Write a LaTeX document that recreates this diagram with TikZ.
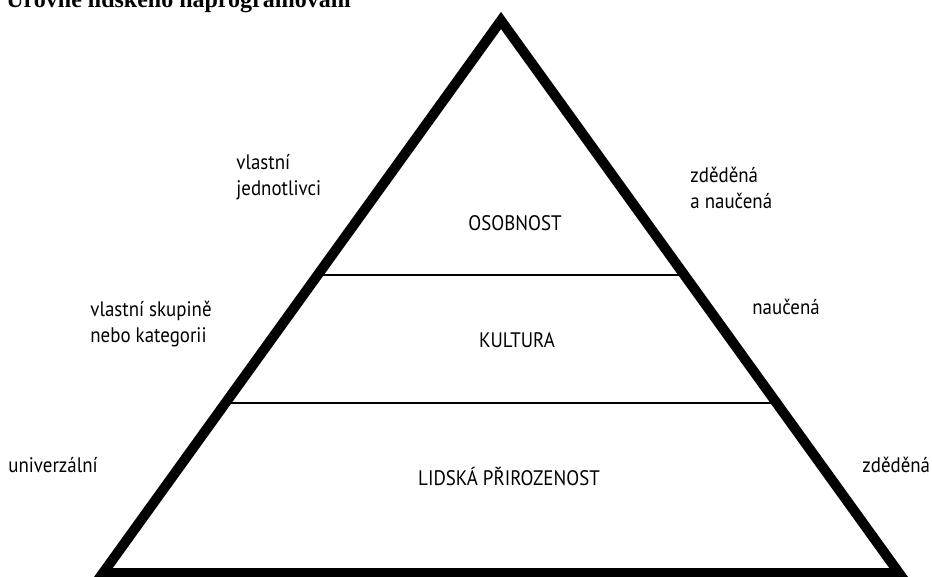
\documentclass[tikz,border=0pt]{standalone}
\usepackage{fontspec}
\setmainfont[FakeStretch=0.9]{PT Sans}
\newfontfamily\titlefont{Liberation Serif}
\usetikzlibrary{calc}

\begin{document}
\begin{tikzpicture}[x=1pt, y=-1pt, thick,
    level node/.style={font=\fontsize{21}{26}\selectfont, inner sep=0pt},
    side node/.style={font=\fontsize{21}{26}\selectfont, align=left, anchor=west, inner sep=0pt},
    title node/.style={font=\titlefont\bfseries\fontsize{24}{28}\selectfont, anchor=base west, inner sep=0pt},
    divider/.style={line width=1.3pt},
    outline/.style={line width=10pt, line join=miter}]
\useasboundingbox (0,0) rectangle (932,576);

% corners of the pyramid
\coordinate (top) at (501,20.5);
\coordinate (left) at (103,573);
\coordinate (right) at (899,573);

% dividers between the levels
\coordinate (d1l) at ($(top)!0.4606!(left)$);
\coordinate (d1r) at ($(top)!0.4606!(right)$);
\coordinate (d2l) at ($(top)!0.6923!(left)$);
\coordinate (d2r) at ($(top)!0.6923!(right)$);
\draw[divider] (d1l) -- (d1r);
\draw[divider] (d2l) -- (d2r);

\draw[outline] (top) -- (left) -- (right) -- cycle;

\node[title node] (title) at (6,7) {Úrovně lidského naprogramování};

% levels
\node[level node] (osobnost) at (515,223) {OSOBNOST};
\node[level node] (kultura) at (517,340) {KULTURA};
\node[level node] (lidska) at (509,476) {LIDSKÁ PŘIROZENOST};

% left side
\node[side node] (jednotlivci) at (236,177) {vlastní\\jednotlivci};
\node[side node] (skupina) at (90,324) {vlastní skupině\\nebo kategorii};
\node[side node] (univerzalni) at (8,465) {univerzální};

% right side
\node[side node] (zdedena1) at (690,188) {zděděná\\a naučená};
\node[side node] (naucena) at (752,307) {naučená};
\node[side node] (zdedena2) at (862,465) {zděděná};
\end{tikzpicture}
\end{document}
